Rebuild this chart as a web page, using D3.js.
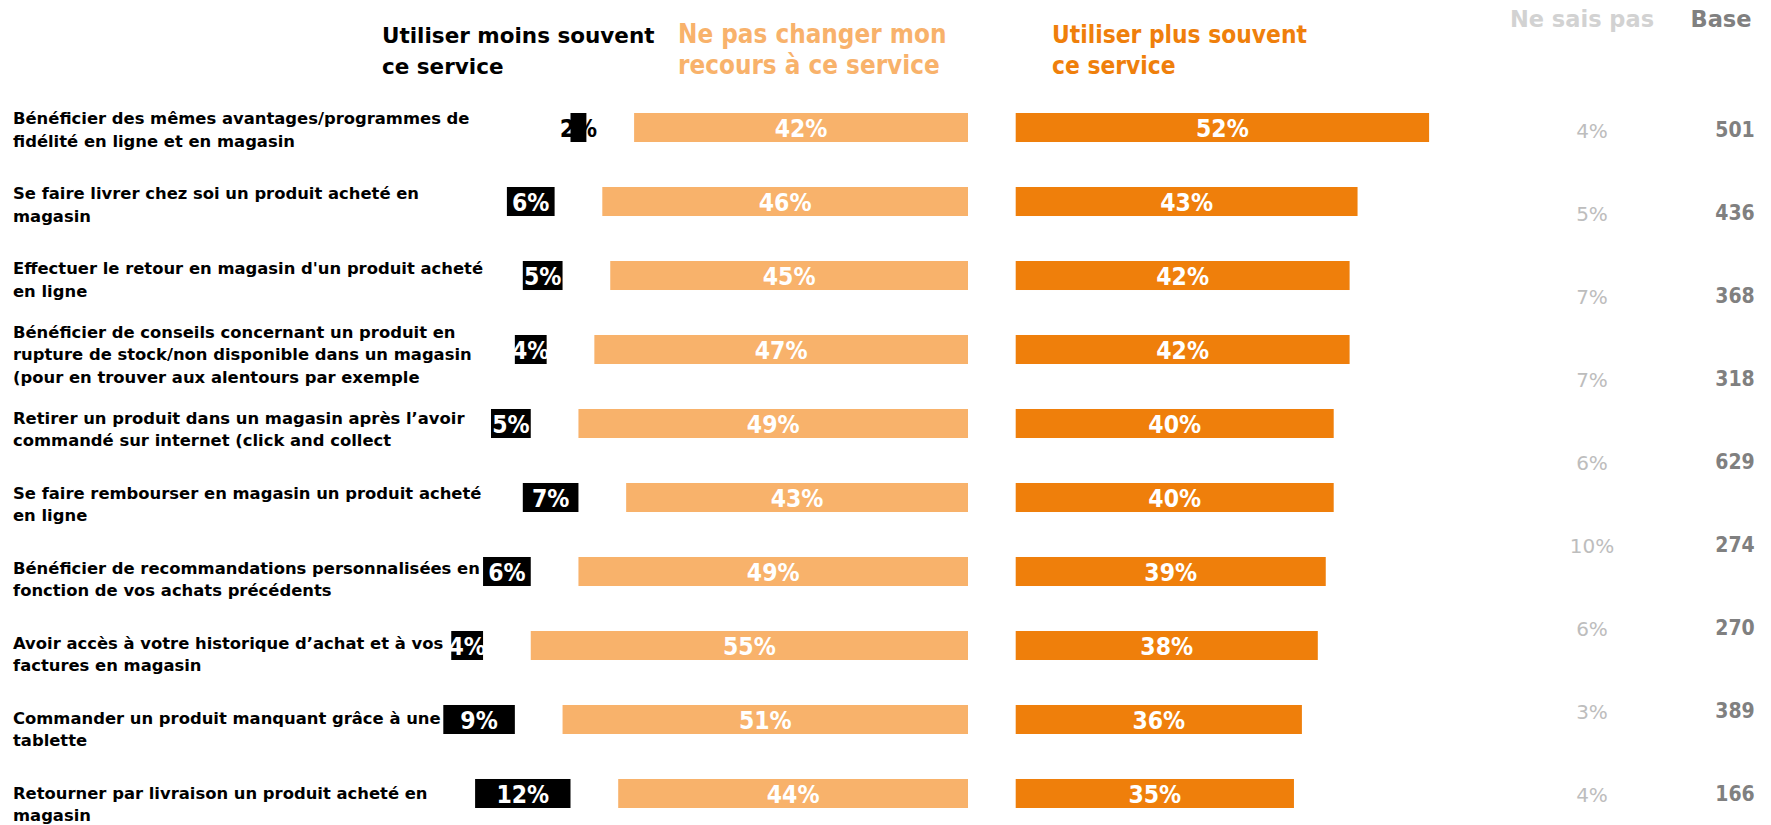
<!DOCTYPE html>
<html><head><meta charset="utf-8">
<script src="https://cdn.jsdelivr.net/npm/d3@7"></script>
<style>html,body{margin:0;padding:0;background:#fff;overflow:hidden} svg{display:block}</style>
</head><body>
<svg id="chart" width="1771" height="825"></svg>
<script>
// ---------------- data ----------------
const categories = [
  "Bénéficier des mêmes avantages/programmes de\nfidélité en ligne et en magasin",
  "Se faire livrer chez soi un produit acheté en\nmagasin",
  "Effectuer le retour en magasin d'un produit acheté\nen ligne",
  "Bénéficier de conseils concernant un produit en\nrupture de stock/non disponible dans un magasin\n(pour en trouver aux alentours par exemple",
  "Retirer un produit dans un magasin après l’avoir\ncommandé sur internet (click and collect",
  "Se faire rembourser en magasin un produit acheté\nen ligne",
  "Bénéficier de recommandations personnalisées en\nfonction de vos achats précédents",
  "Avoir accès à votre historique d’achat et à vos\nfactures en magasin",
  "Commander un produit manquant grâce à une\ntablette",
  "Retourner par livraison un produit acheté en\nmagasin"
];
const lessOften = [2, 6, 5, 4, 5, 7, 6, 4, 9, 12];
const noChange  = [42, 46, 45, 47, 49, 43, 49, 55, 51, 44];
const moreOften = [52, 43, 42, 42, 40, 40, 39, 38, 36, 35];
const dontKnow  = [4, 5, 7, 7, 6, 10, 6, 3, 4];
const baseCounts = [501, 436, 368, 318, 629, 274, 270, 389, 166];
const seriesTitles = [
  ["Utiliser moins souvent", "ce service"],
  ["Ne pas changer mon", "recours à ce service"],
  ["Utiliser plus souvent", "ce service"]
];
const dontKnowTitle = "Ne sais pas";
const baseTitle = "Base";
const spacer = 6; // invisible spacer segment between stacked parts (in %)

// ---------------- styles ----------------
const C_LESS = "#000000", C_NEUTRAL = "#F8B26B", C_MORE = "#EF7F0B";
const C_DK = "#BDBDBD", C_BASE = "#808080", C_DK_TITLE = "#D2D2D2";
const F_BODY = "'DejaVu Sans', sans-serif";
const F_COND = "'DejaVu Sans Condensed', 'DejaVu Sans', sans-serif";

const svg = d3.select("#chart");
const idx = d3.range(categories.length);

const x = d3.scaleLinear().domain([-60, 60]).range([491, 1445]);
const y = d3.scaleBand().domain(idx).range([113, 808]).paddingInner(0.608).paddingOuter(0);
const yLabel = d3.scalePoint().domain(idx).range([129.6, 803.9]);
const yRight = d3.scalePoint().domain(d3.range(dontKnow.length)).range([131, 795]);

// ---------------- category labels (under bars) ----------------
const lh = 22.3;
const labG = svg.append("g");
idx.forEach(i => {
  const lines = categories[i].split("\n");
  const first = yLabel(i) - (lines.length - 1) * lh / 2 + 6;
  const t = labG.append("text")
    .attr("x", 13).attr("y", first)
    .attr("font-family", F_BODY).attr("font-weight", "bold")
    .attr("font-size", 16.4).attr("fill", "#000");
  lines.forEach((l, k) => t.append("tspan").attr("x", 13).attr("y", first + k * lh).text(l));
});

// ---------------- bars ----------------
const rows = idx.map(i => ({
  i, less: lessOften[i], neu: noChange[i], more: moreOften[i]
}));

const g = svg.append("g");
const bh = y.bandwidth();

g.selectAll("rect.less").data(rows).join("rect").attr("class", "less")
  .attr("x", d => x(-d.neu - spacer - d.less))
  .attr("width", d => x(-d.neu - spacer) - x(-d.neu - spacer - d.less))
  .attr("y", d => y(d.i)).attr("height", bh).attr("fill", C_LESS);
g.selectAll("rect.neu").data(rows).join("rect").attr("class", "neu")
  .attr("x", d => x(-d.neu)).attr("width", d => x(0) - x(-d.neu))
  .attr("y", d => y(d.i)).attr("height", bh).attr("fill", C_NEUTRAL);
g.selectAll("rect.more").data(rows).join("rect").attr("class", "more")
  .attr("x", x(spacer)).attr("width", d => x(spacer + d.more) - x(spacer))
  .attr("y", d => y(d.i)).attr("height", bh).attr("fill", C_MORE);

const valFont = sel => sel.attr("font-family", F_COND).attr("font-stretch", "condensed")
  .attr("font-weight", "bold").attr("font-size", 24.5).attr("text-anchor", "middle").attr("dy", "0.37em");

g.selectAll("text.less").data(rows).join("text").attr("class", "less")
  .attr("x", d => x(-d.neu - spacer - d.less / 2)).attr("y", d => y(d.i) + bh / 2)
  .call(valFont).attr("fill", d => d.less <= 2 ? "#000" : "#fff").text(d => d.less + "%");
g.selectAll("text.neu").data(rows).join("text").attr("class", "neu")
  .attr("x", d => x(-d.neu / 2)).attr("y", d => y(d.i) + bh / 2)
  .call(valFont).attr("fill", "#fff").text(d => d.neu + "%");
g.selectAll("text.more").data(rows).join("text").attr("class", "more")
  .attr("x", d => x(spacer + d.more / 2)).attr("y", d => y(d.i) + bh / 2)
  .call(valFont).attr("fill", "#fff").text(d => d.more + "%");

// ---------------- right columns ----------------
svg.append("g").selectAll("text").data(dontKnow).join("text")
  .attr("x", 1592).attr("y", (d, k) => yRight(k)).attr("dy", "0.36em")
  .attr("text-anchor", "middle").attr("font-family", F_BODY).attr("font-size", 20)
  .attr("fill", C_DK).text(d => d + "%");
svg.append("g").selectAll("text").data(baseCounts).join("text")
  .attr("x", 1735).attr("y", (d, k) => yRight(k) - 1.5).attr("dy", "0.36em")
  .attr("text-anchor", "middle").attr("font-family", F_COND).attr("font-stretch", "condensed")
  .attr("font-weight", "bold").attr("font-size", 21)
  .attr("fill", C_BASE).text(d => d);

// ---------------- headers ----------------
const hdr = [
  {x: 382, color: "#000", font: F_BODY, size: 21.5, stretch: "normal"},
  {x: 678, color: C_NEUTRAL, font: F_COND, size: 25.8, stretch: "condensed"},
  {x: 1052, color: C_MORE, font: F_COND, size: 24.3, stretch: "condensed"}
];
seriesTitles.forEach((lines, k) => {
  const t = svg.append("text").attr("font-family", hdr[k].font).attr("font-stretch", hdr[k].stretch)
    .attr("font-weight", "bold").attr("font-size", hdr[k].size).attr("fill", hdr[k].color);
  lines.forEach((l, j) => t.append("tspan").attr("x", hdr[k].x).attr("y", 43 + j * 30.5).text(l));
});
svg.append("text").attr("x", 1582).attr("y", 27).attr("text-anchor", "middle")
  .attr("font-family", F_BODY).attr("font-weight", "bold").attr("font-size", 22.5)
  .attr("fill", C_DK_TITLE).text(dontKnowTitle);
svg.append("text").attr("x", 1721).attr("y", 27).attr("text-anchor", "middle")
  .attr("font-family", F_BODY).attr("font-weight", "bold").attr("font-size", 22.5)
  .attr("fill", C_BASE).text(baseTitle);
</script>
</body></html>
